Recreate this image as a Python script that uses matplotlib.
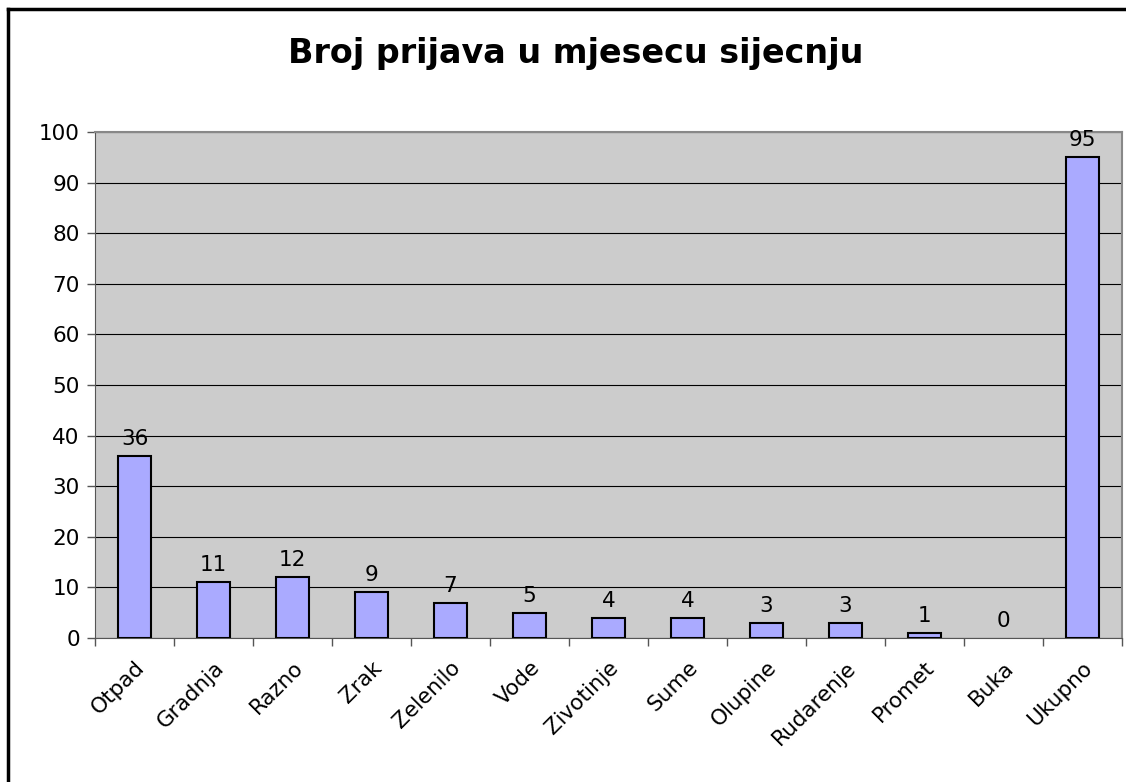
import numpy as np
import matplotlib
matplotlib.use("Agg")
import matplotlib.pyplot as plt
from matplotlib.lines import Line2D

# data
categories = ["Otpad", "Gradnja", "Razno", "Zrak", "Zelenilo", "Vode", "Zivotinje",
              "Sume", "Olupine", "Rudarenje", "Promet", "Buka", "Ukupno"]
values = [36, 11, 12, 9, 7, 5, 4, 4, 3, 3, 1, 0, 95]
yticks = [0, 10, 20, 30, 40, 50, 60, 70, 80, 90, 100]

plt.rcParams['font.family'] = ['DejaVu Sans']

fig = plt.figure(figsize=(11.26, 7.82), dpi=100)
ax = fig.add_axes([0.0844, 0.1841, 0.912, 0.6471])

x = np.arange(len(categories))
ax.set_facecolor("#cccccc")
ax.set_axisbelow(True)
ax.grid(axis="y", color="black", linewidth=0.8)
# zero-height bars get no outline, like the original
lws = [1.5 if v > 0 else 0 for v in values]
ax.bar(x, values, width=0.42, color="#aaaaff", edgecolor="black", linewidth=lws, zorder=3)

# value labels above bars
for xi, v in zip(x, values):
    ax.text(xi, v + 1.4, str(v), ha="center", va="bottom", fontsize=15.5)

ax.set_xlim(-0.5, len(categories) - 0.5)
ax.set_ylim(0, 100)
ax.set_yticks(yticks)
ax.tick_params(axis="y", labelsize=15.5, length=6, width=1, color="#555555", pad=5)
ax.set_xticks(x)
ax.set_xticklabels(categories, rotation=45, ha="right", rotation_mode="anchor", fontsize=15.5)
ax.tick_params(axis="x", length=0, pad=14)
# tick marks at category boundaries
ax.set_xticks(np.arange(len(categories) + 1) - 0.5, minor=True)
ax.tick_params(axis="x", which="minor", length=6, width=1, color="#555555")

for side in ["top", "right"]:
    ax.spines[side].set_color("#888888")
    ax.spines[side].set_linewidth(1.5)
ax.spines["left"].set_color("#555555")
ax.spines["bottom"].set_color("#555555")

fig.text(0.511, 0.932, "Broj prijava u mjesecu sijecnju", ha="center", va="center",
         fontsize=24, fontweight="bold")

# outer chart border (top and left visible)
fig.add_artist(Line2D([0.0075, 1.0], [0.9885, 0.9885], color="black", linewidth=2.5, transform=fig.transFigure))
fig.add_artist(Line2D([0.0075, 0.0075], [0.0, 0.9885], color="black", linewidth=2.5, transform=fig.transFigure))

fig.savefig("out.png", dpi=100)
